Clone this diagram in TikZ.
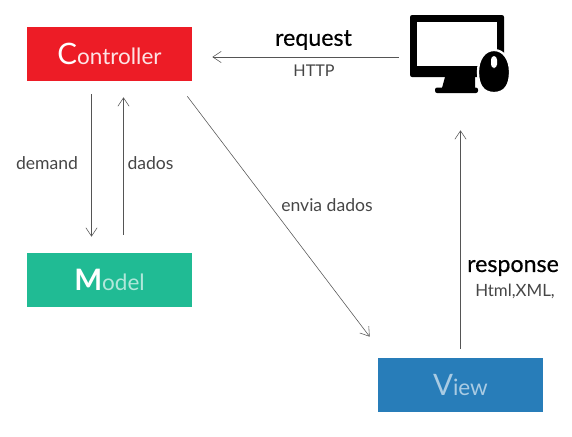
\documentclass[tikz,border=0pt]{standalone}
\usepackage{fontspec}
\setmainfont{Lato}
\newfontfamily\semibold[FakeBold=0.5]{Lato}
\usetikzlibrary{arrows.meta}
\definecolor{ctrlred}{RGB}{237,28,38}
\definecolor{modelgreen}{RGB}{32,187,148}
\definecolor{viewblue}{RGB}{40,125,185}
\definecolor{linegray}{RGB}{85,85,85}
\definecolor{labelgray}{RGB}{70,70,70}
\tikzset{
	box/.style={minimum width=4.125cm,minimum height=1.35cm,inner sep=0pt,text=white},
	conn/.style={draw=linegray,line width=0.6pt,-{Straight Barb[length=6pt,width=8pt,line width=0.4pt]}},
	small/.style={text=labelgray,font=\fontsize{12.5}{14}\selectfont,inner sep=0pt},
	big/.style={text=black,font=\semibold\fontsize{16.5}{18}\selectfont,inner sep=0pt}
}
\begin{document}
\begin{tikzpicture}[x=0.025cm,y=-0.025cm]
	\useasboundingbox (0,0) rectangle (572,436);
	\node[box,fill=ctrlred] (controller) at (109.5,54) {\fontsize{16}{18}\selectfont{\fontsize{21}{26}\selectfont C}\textcolor{white!88!ctrlred}{ontroller}};
	\node[box,fill=modelgreen] (model) at (109.5,280) {\fontsize{16}{18}\selectfont{\fontsize{21}{26}\selectfont\bfseries M}\textcolor{white!65!modelgreen}{odel}};
	\node[box,fill=viewblue] (view) at (460.5,385) {\fontsize{16}{18}\selectfont\color{white!60!viewblue}{\fontsize{21}{26}\selectfont V}iew};
	\node[minimum width=2.475cm,minimum height=1.95cm,inner sep=0pt] (pc) at (459.5,54) {};
	% monitor
	\fill[black,rounded corners=1.5pt] (410,15) rectangle (504,77);
	\fill[white] (417,22) rectangle (497,66);
	\fill[black] (445,77) -- (475,77) -- (475,88) -- (442,88) -- cycle;
	\fill[black,rounded corners=1.5pt] (435,87.5) rectangle (478,93);
	% mouse
	\fill[black,draw=white,line width=1.6pt] (494,50) .. controls (504,50) and (510,60) .. (510,72) .. controls (510,85) and (505,93) .. (494,93) .. controls (483,93) and (478,85) .. (478,72) .. controls (478,60) and (484,50) .. (494,50) -- cycle;
	\fill[white,rounded corners=2.5pt] (491,56) rectangle (497,68);
	% arrows
	\draw[conn] ([xshift=-0.275cm,yshift=-0.075cm]pc.west) -- ([xshift=0.5cm,yshift=-0.075cm]controller.east);
	\draw[conn] ([xshift=-0.45cm,yshift=-0.325cm]controller.south) -- ([xshift=-0.45cm,yshift=0.4cm]model.north);
	\draw[conn] ([xshift=0.35cm,yshift=0.45cm]model.north) -- ([xshift=0.35cm,yshift=-0.4cm]controller.south);
	\draw[conn,line width=0.4pt] ([xshift=-0.125cm,yshift=-0.375cm]controller.south east) -- ([xshift=-0.2cm,yshift=0.525cm]view.north west);
	\draw[conn] ([yshift=0.225cm]view.north) -- ([xshift=0.025cm,yshift=-0.925cm]pc.south);
	% labels
	\node[big] (request) at (313.5,40) {request};
	\node[small,font=\fontsize{11.5}{14}\selectfont] (http) at (314,71) {HTTP};
	\node[small] (demand) at (47,163) {demand};
	\node[small] (dados) at (150.5,163) {dados};
	\node[small] (envia) at (327,205) {envia dados};
	\node[big] (response) at (513,268) {response};
	\node[small,font=\fontsize{12}{14}\selectfont] (html) at (515,291) {Html,XML,};
\end{tikzpicture}
\end{document}
